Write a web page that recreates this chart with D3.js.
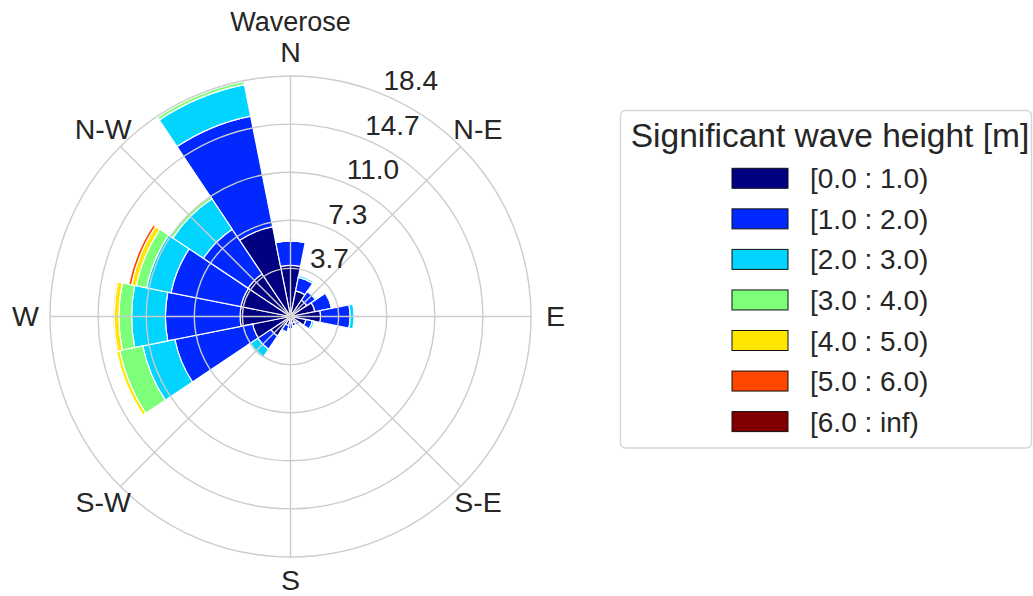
<!DOCTYPE html>
<html>
<head>
<meta charset="utf-8">
<script src="https://cdn.jsdelivr.net/npm/d3@7"></script>
<style>
  body { margin: 0; background: #fff; }
  svg { display: block; font-family: "Liberation Sans", Arial, sans-serif; }
</style>
</head>
<body>
<div id="chart"></div>
<script>
// 16 sectors, clockwise from north
const directions = ["N", "NNE", "NE", "ENE", "E", "ESE", "SE", "SSE",
  "S", "SSW", "SW", "WSW", "W", "WNW", "NW", "NNW"];
const compassLabels = ["N", "N-E", "E", "S-E", "S", "S-W", "W", "N-W"];
const binLabels = ["[0.0 : 1.0)", "[1.0 : 2.0)", "[2.0 : 3.0)", "[3.0 : 4.0)",
  "[4.0 : 5.0)", "[5.0 : 6.0)", "[6.0 : inf)"];
const binColors = ["#000080", "#0028ff", "#00d4ff", "#7dff7a", "#ffe600", "#ff4700", "#800000"];

// frequency (%) per sector for each wave height bin
const hs0to1 = [3.9, 2.0, 1.5, 1.9, 2.3, 1.2, 0.6, 0.5, 0.5, 0.7, 1.8, 2.95, 3.85, 3.86, 3.9, 7.0];
const hs1to2 = [1.85, 1.05, 0.8, 1.3, 2.25, 0.5, 0.25, 0.25, 0.45, 0.5, 1.2, 6.05, 5.7, 5.44, 4.1, 8.6];
const hs2to3 = [0.1, 0.15, 0.1, 0.05, 0.3, 0.15, 0.05, 0.05, 0.05, 0.1, 0.8, 2.5, 2.58, 1.9, 2.8, 2.45];
const hs3to4 = [0, 0, 0, 0, 0, 0, 0, 0, 0, 0, 0.1, 1.8, 0.97, 0.8, 0.25, 0.25];
const hs4to5 = [0, 0, 0, 0, 0, 0, 0, 0, 0, 0, 0, 0.25, 0.37, 0.38, 0, 0.06];
const hs5to6 = [0, 0, 0, 0, 0, 0, 0, 0, 0, 0, 0, 0, 0.1, 0.22, 0, 0];
const hs6up = [0, 0, 0, 0, 0, 0, 0, 0, 0, 0, 0, 0, 0, 0, 0, 0];
const bins = [hs0to1, hs1to2, hs2to3, hs3to4, hs4to5, hs5to6, hs6up];

const width = 1033, height = 596;
const cx = 290.5, cy = 316.5, R = 240.5;
const textColor = "#262626";
const gridColor = "#cccccc";

const svg = d3.select("#chart").append("svg")
  .attr("width", width)
  .attr("height", height);

const table = directions.map((d, i) => {
  const row = { dir: d };
  binLabels.forEach((b, j) => row[b] = bins[j][i]);
  return row;
});
const series = d3.stack().keys(binLabels)(table);
const rmax = d3.max(series[series.length - 1], p => p[1]);

const r = d3.scaleLinear().domain([0, rmax]).range([0, R]);
const angle = d3.scaleBand().domain(directions)
  .range([-Math.PI / 16, 2 * Math.PI - Math.PI / 16]);
const arc = d3.arc();

const plot = svg.append("g").attr("transform", `translate(${cx},${cy})`);

// bars
plot.selectAll("g.bin")
  .data(series)
  .join("g")
  .attr("class", "bin")
  .attr("fill", (s, i) => binColors[i])
  .selectAll("path")
  .data(s => s.filter(p => p[1] - p[0] > 0))
  .join("path")
  .attr("d", p => arc({
    innerRadius: r(p[0]),
    outerRadius: r(p[1]),
    startAngle: angle(p.data.dir),
    endAngle: angle(p.data.dir) + angle.bandwidth()
  }))
  .attr("stroke", "#fff")
  .attr("stroke-width", 1.2);

// grid on top of the bars
const ticks = d3.range(1, 6).map(k => rmax * k / 5);
plot.selectAll("circle.grid")
  .data(ticks)
  .join("circle")
  .attr("class", "grid")
  .attr("r", d => r(d))
  .attr("fill", "none")
  .attr("stroke", gridColor)
  .attr("stroke-width", 1.4);

const spokes = d3.range(8).map(k => k * Math.PI / 4);
plot.selectAll("line.spoke")
  .data(spokes)
  .join("line")
  .attr("class", "spoke")
  .attr("x1", 0).attr("y1", 0)
  .attr("x2", a => R * Math.sin(a))
  .attr("y2", a => -R * Math.cos(a))
  .attr("stroke", gridColor)
  .attr("stroke-width", 1.4);

// compass labels
plot.selectAll("text.compass")
  .data(compassLabels)
  .join("text")
  .attr("class", "compass")
  .attr("x", (d, i) => 265 * Math.sin(spokes[i]))
  .attr("y", (d, i) => -264 * Math.cos(spokes[i]) + 9)
  .attr("text-anchor", "middle")
  .attr("font-size", 28.5)
  .attr("fill", textColor)
  .text(d => d);

// radial tick labels at 22.5 deg
const labelAngle = Math.PI / 8;
plot.selectAll("text.rlabel")
  .data(ticks)
  .join("text")
  .attr("class", "rlabel")
  .attr("x", d => r(d) * Math.sin(labelAngle) + 1)
  .attr("y", d => -r(d) * Math.cos(labelAngle) - 4)
  .attr("font-size", 28)
  .attr("fill", textColor)
  .text(d => d.toFixed(1));

svg.append("text")
  .attr("x", cx)
  .attr("y", 30.5)
  .attr("text-anchor", "middle")
  .attr("font-size", 27)
  .attr("fill", textColor)
  .text("Waverose");

// legend
const legend = svg.append("g");
legend.append("rect")
  .attr("x", 620.5).attr("y", 110.5)
  .attr("width", 411).attr("height", 337.5)
  .attr("rx", 5)
  .attr("fill", "#fff")
  .attr("stroke", "#d6d6d6")
  .attr("stroke-width", 1.4);
legend.append("text")
  .attr("x", 830)
  .attr("y", 146.5)
  .attr("text-anchor", "middle")
  .attr("font-size", 33.5)
  .attr("fill", textColor)
  .text("Significant wave height [m]");

const rowY = d3.scaleLinear().domain([0, 6]).range([178.3, 421.6]);
const entry = legend.selectAll("g.entry")
  .data(binLabels)
  .join("g")
  .attr("class", "entry")
  .attr("transform", (d, i) => `translate(0,${rowY(i)})`);
entry.append("rect")
  .attr("x", 732).attr("y", -10)
  .attr("width", 56).attr("height", 20)
  .attr("fill", (d, i) => binColors[i])
  .attr("stroke", "#111")
  .attr("stroke-width", 1);
entry.append("text")
  .attr("x", 810)
  .attr("y", 10)
  .attr("font-size", 28)
  .attr("fill", textColor)
  .text(d => d);
</script>
</body>
</html>
